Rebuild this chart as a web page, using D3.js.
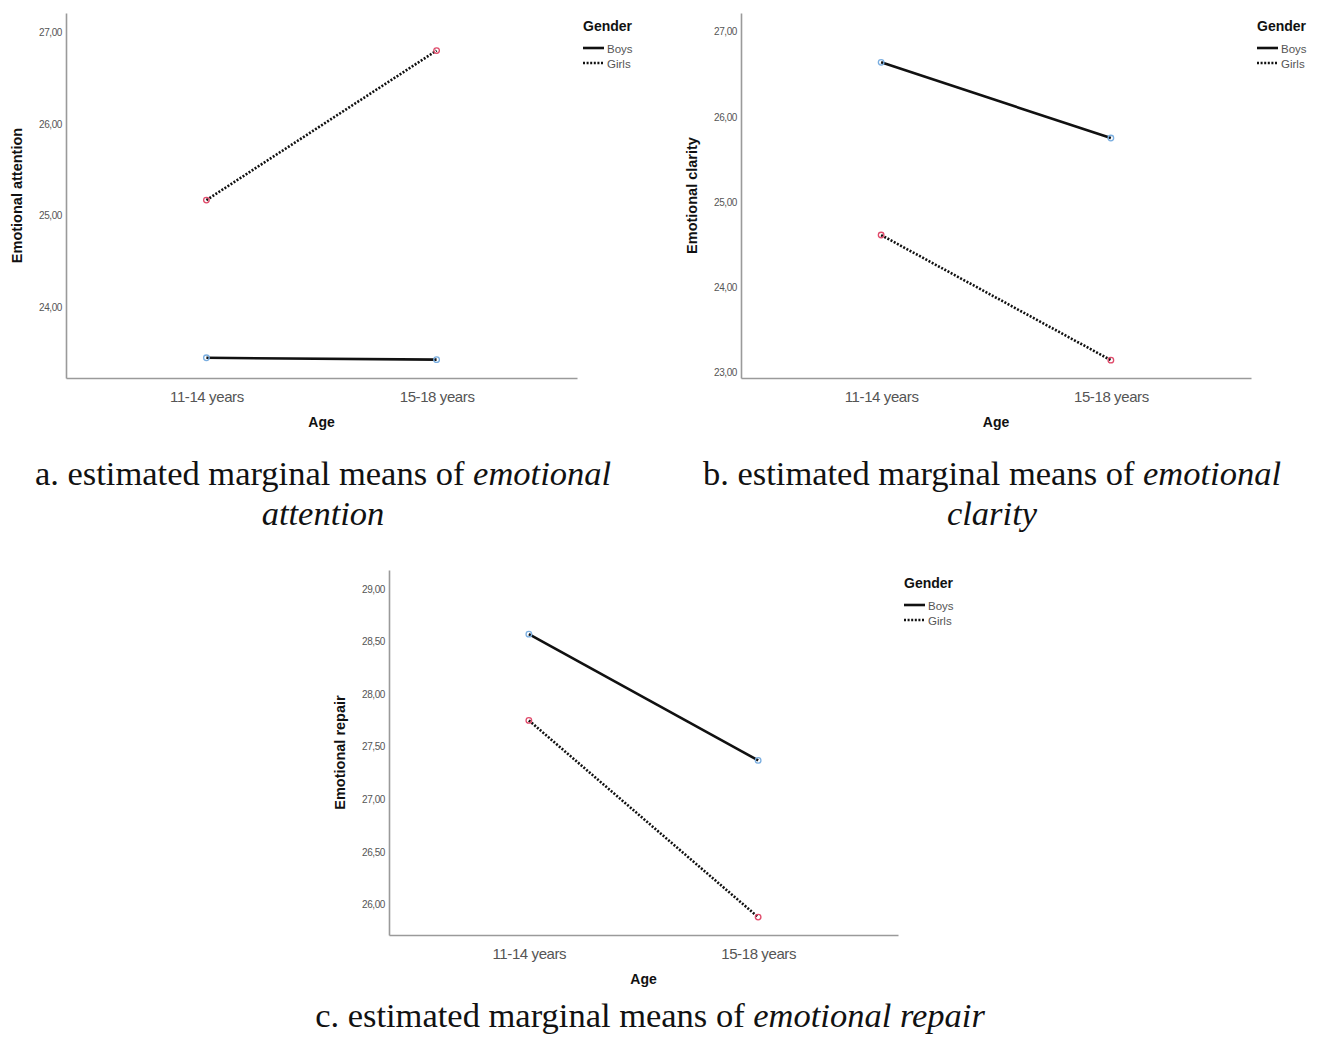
<!DOCTYPE html>
<html>
<head>
<meta charset="utf-8">
<script src="https://cdn.jsdelivr.net/npm/d3@7"></script>
<style>
  body { margin: 0; background: #fff; }
  svg { display: block; }
</style>
</head>
<body>
<div id="chart"></div>
<script>
var width = 1322;
var height = 1037;

// data
var ages = ["11-14 years", "15-18 years"];
var genders = ["Boys", "Girls"];

var attentionBoys = [23.45, 23.43];
var attentionGirls = [25.17, 26.80];
var attentionTicks = [24, 25, 26, 27];

var clarityBoys = [26.64, 25.75];
var clarityGirls = [24.61, 23.14];
var clarityTicks = [23, 24, 25, 26, 27];

var repairBoys = [28.57, 27.37];
var repairGirls = [27.75, 25.88];
var repairTicks = [26, 26.5, 27, 27.5, 28, 28.5, 29];

var svg = d3.select("#chart")
  .append("svg")
  .attr("width", width)
  .attr("height", height);

var fmt = function(v){ return d3.format(".2f")(v).replace(".", ","); };

var panels = [
  { title: "Emotional attention", boys: attentionBoys, girls: attentionGirls, ticks: attentionTicks,
    domain: [23.23, 27.21], x0: 66, x1: 577, y0: 13, y1: 378,
    caption: ["a. estimated marginal means of ", "emotional", "attention"], cx: 323 },
  { title: "Emotional clarity", boys: clarityBoys, girls: clarityGirls, ticks: clarityTicks,
    domain: [22.93, 27.22], x0: 741, x1: 1251, y0: 13, y1: 378,
    caption: ["b. estimated marginal means of ", "emotional", "clarity"], cx: 992 },
  { title: "Emotional repair", boys: repairBoys, girls: repairGirls, ticks: repairTicks,
    domain: [25.71, 29.18], x0: 389, x1: 898, y0: 570, y1: 935,
    caption: ["c. estimated marginal means of ", "emotional repair"], cx: 650 }
];

panels.forEach(function(p){
  var g = svg.append("g");

  var x = d3.scalePoint().domain(ages).range([p.x0, p.x1]).padding(0.61);
  var y = d3.scaleLinear().domain(p.domain).range([p.y1, p.y0]);

  // axes
  var yAxis = d3.axisLeft(y).tickValues(p.ticks).tickFormat(fmt).tickSize(0).tickPadding(4);
  var yg = g.append("g").attr("transform", "translate(" + p.x0 + ",0)").call(yAxis);
  yg.select(".domain").attr("stroke", "#9a9a9a").attr("stroke-width", 1.6);
  yg.selectAll("text").attr("font-family", "Liberation Sans, Arial, sans-serif")
    .attr("font-size", 10).attr("fill", "#555").attr("letter-spacing", -0.4);

  var xAxis = d3.axisBottom(x).tickSize(0).tickPadding(13);
  var xg = g.append("g").attr("transform", "translate(0," + p.y1 + ")").call(xAxis);
  xg.select(".domain").attr("stroke", "#9a9a9a").attr("stroke-width", 1.6);
  xg.selectAll("text").attr("font-family", "Liberation Sans, Arial, sans-serif")
    .attr("font-size", 15).attr("fill", "#555").attr("letter-spacing", -0.4);

  g.append("text")
    .attr("x", (p.x0 + p.x1) / 2)
    .attr("y", p.y1 + 49)
    .attr("text-anchor", "middle")
    .attr("font-family", "Liberation Sans, Arial, sans-serif")
    .attr("font-weight", "bold").attr("font-size", 14).attr("fill", "#111")
    .text("Age");

  g.append("text")
    .attr("transform", "translate(" + (p.x0 - 44) + "," + ((p.y0 + p.y1) / 2) + ") rotate(-90)")
    .attr("text-anchor", "middle")
    .attr("font-family", "Liberation Sans, Arial, sans-serif")
    .attr("font-weight", "bold").attr("font-size", 14.5).attr("fill", "#111")
    .text(p.title);

  // lines
  var line = d3.line()
    .x(function(d, i){ return x(ages[i]); })
    .y(function(d){ return y(d); });

  g.append("path").datum(p.boys)
    .attr("d", line).attr("fill", "none")
    .attr("stroke", "#111").attr("stroke-width", 2.6);

  g.append("path").datum(p.girls)
    .attr("d", line).attr("fill", "none")
    .attr("stroke", "#111").attr("stroke-width", 2.6)
    .attr("stroke-dasharray", "2,1.6");

  // markers
  [[p.boys, "#7aaee0"], [p.girls, "#e04a6a"]].forEach(function(s){
    g.selectAll(null).data(s[0]).enter()
      .append("circle")
      .attr("cx", function(d, i){ return x(ages[i]); })
      .attr("cy", function(d){ return y(d); })
      .attr("r", 2.8)
      .attr("fill", "none")
      .attr("stroke", s[1])
      .attr("stroke-width", 1.3);
  });

  // legend
  var lg = g.append("g").attr("transform", "translate(" + (p.x1 + 6) + "," + p.y0 + ")");
  lg.append("text").attr("x", 0).attr("y", 18)
    .attr("font-family", "Liberation Sans, Arial, sans-serif")
    .attr("font-weight", "bold").attr("font-size", 14).attr("fill", "#111")
    .text("Gender");
  genders.forEach(function(name, i){
    lg.append("line")
      .attr("x1", 0).attr("x2", 21)
      .attr("y1", 35 + i * 15).attr("y2", 35 + i * 15)
      .attr("stroke", "#111").attr("stroke-width", 2.6)
      .attr("stroke-dasharray", i === 1 ? "2,1.6" : null);
    lg.append("text").attr("x", 24).attr("y", 40 + i * 15)
      .attr("font-family", "Liberation Sans, Arial, sans-serif")
      .attr("font-size", 11.5).attr("fill", "#555")
      .text(name);
  });

  // caption
  var capY = p.y1 + (p.caption.length === 3 ? 107 : 92);
  var cap = g.append("text")
    .attr("x", p.cx).attr("y", capY)
    .attr("text-anchor", "middle")
    .attr("font-family", "Liberation Serif, Times New Roman, serif")
    .attr("font-size", 34.5).attr("fill", "#111");
  cap.append("tspan").text(p.caption[0]);
  cap.append("tspan").attr("font-style", "italic").text(p.caption[1]);
  if (p.caption.length === 3) {
    g.append("text")
      .attr("x", p.cx).attr("y", capY + 40)
      .attr("text-anchor", "middle")
      .attr("font-family", "Liberation Serif, Times New Roman, serif")
      .attr("font-size", 34.5).attr("font-style", "italic").attr("fill", "#111")
      .text(p.caption[2]);
  }
});
</script>
</body>
</html>
